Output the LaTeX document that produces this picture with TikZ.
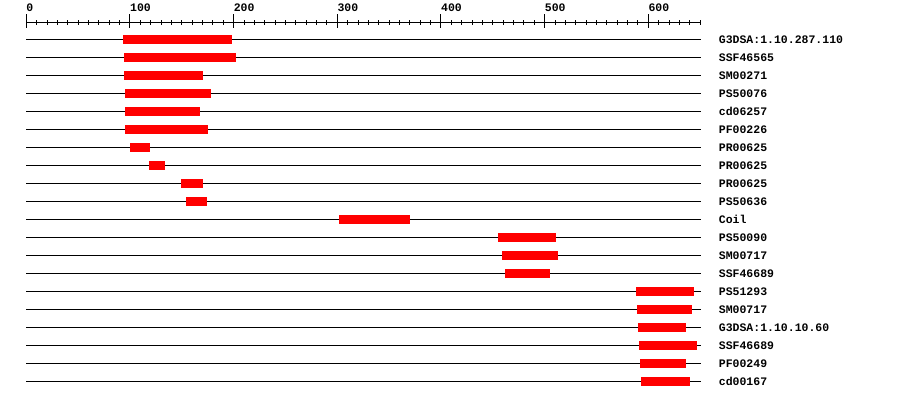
\documentclass[tikz,border=0pt]{standalone}
\usepackage{fontspec}
\setmonofont{Liberation Mono}
\usetikzlibrary{positioning}
\definecolor{hitred}{RGB}{255,0,0}

\begin{document}
\begin{tikzpicture}[x=1pt,y=-1pt,
  every node/.style={font=\ttfamily\bfseries\fontsize{11.5}{12}\selectfont, inner sep=0pt},
  seqline/.style={line width=1pt, black},
  hitbar/.style={fill=hitred, draw=none},
  majortick/.style={line width=1pt},
  minortick/.style={line width=1pt},
  rowlabel/.style={anchor=base west},
]
\useasboundingbox (0,0) rectangle (900,400);

\begin{scope}[xshift=26.3pt, x=1.0367pt]
% ruler
\draw[seqline] (0,22.7) coordinate (rulerstart) -- (650,22.7) coordinate (rulerend);
\foreach \t in {0,10,...,650} \draw[minortick] (\t,20) -- (\t,25);
\foreach \t in {0,100,...,600} {
  \draw[majortick] (\t,14) -- (\t,28);
  \node[anchor=base west] (tick\t) at (\t,11.7) {\t};
}

% one row per hit
\foreach \i/\name/\from/\to in {
  1/G3DSA:1.10.287.110/93/198,
  2/SSF46565/94/202,
  3/SM00271/94/170,
  4/PS50076/95/178,
  5/cd06257/95/168,
  6/PF00226/95/175,
  7/PR00625/100/119,
  8/PR00625/118/134,
  9/PR00625/149/170,
  10/PS50636/154/174,
  11/Coil/302/370,
  12/PS50090/455/511,
  13/SM00717/459/513,
  14/SSF46689/462/505,
  15/PS51293/588/644,
  16/SM00717/589/642,
  17/G3DSA:1.10.10.60/590/636,
  18/SSF46689/591/647,
  19/PF00249/592/636,
  20/cd00167/593/640} {
  \pgfmathsetmacro{\y}{39.3+18*(\i-1)}
  \draw[seqline] (0,\y) coordinate (start\i) -- (650.5,\y) coordinate (end\i);
  \fill[hitbar] (\from,{\y-4.5}) rectangle (\to,{\y+4.5});
  \node[rowlabel] (label\i) at ([shift={(18pt,-4pt)}]end\i) {\name};
}
\end{scope}
\end{tikzpicture}
\end{document}
